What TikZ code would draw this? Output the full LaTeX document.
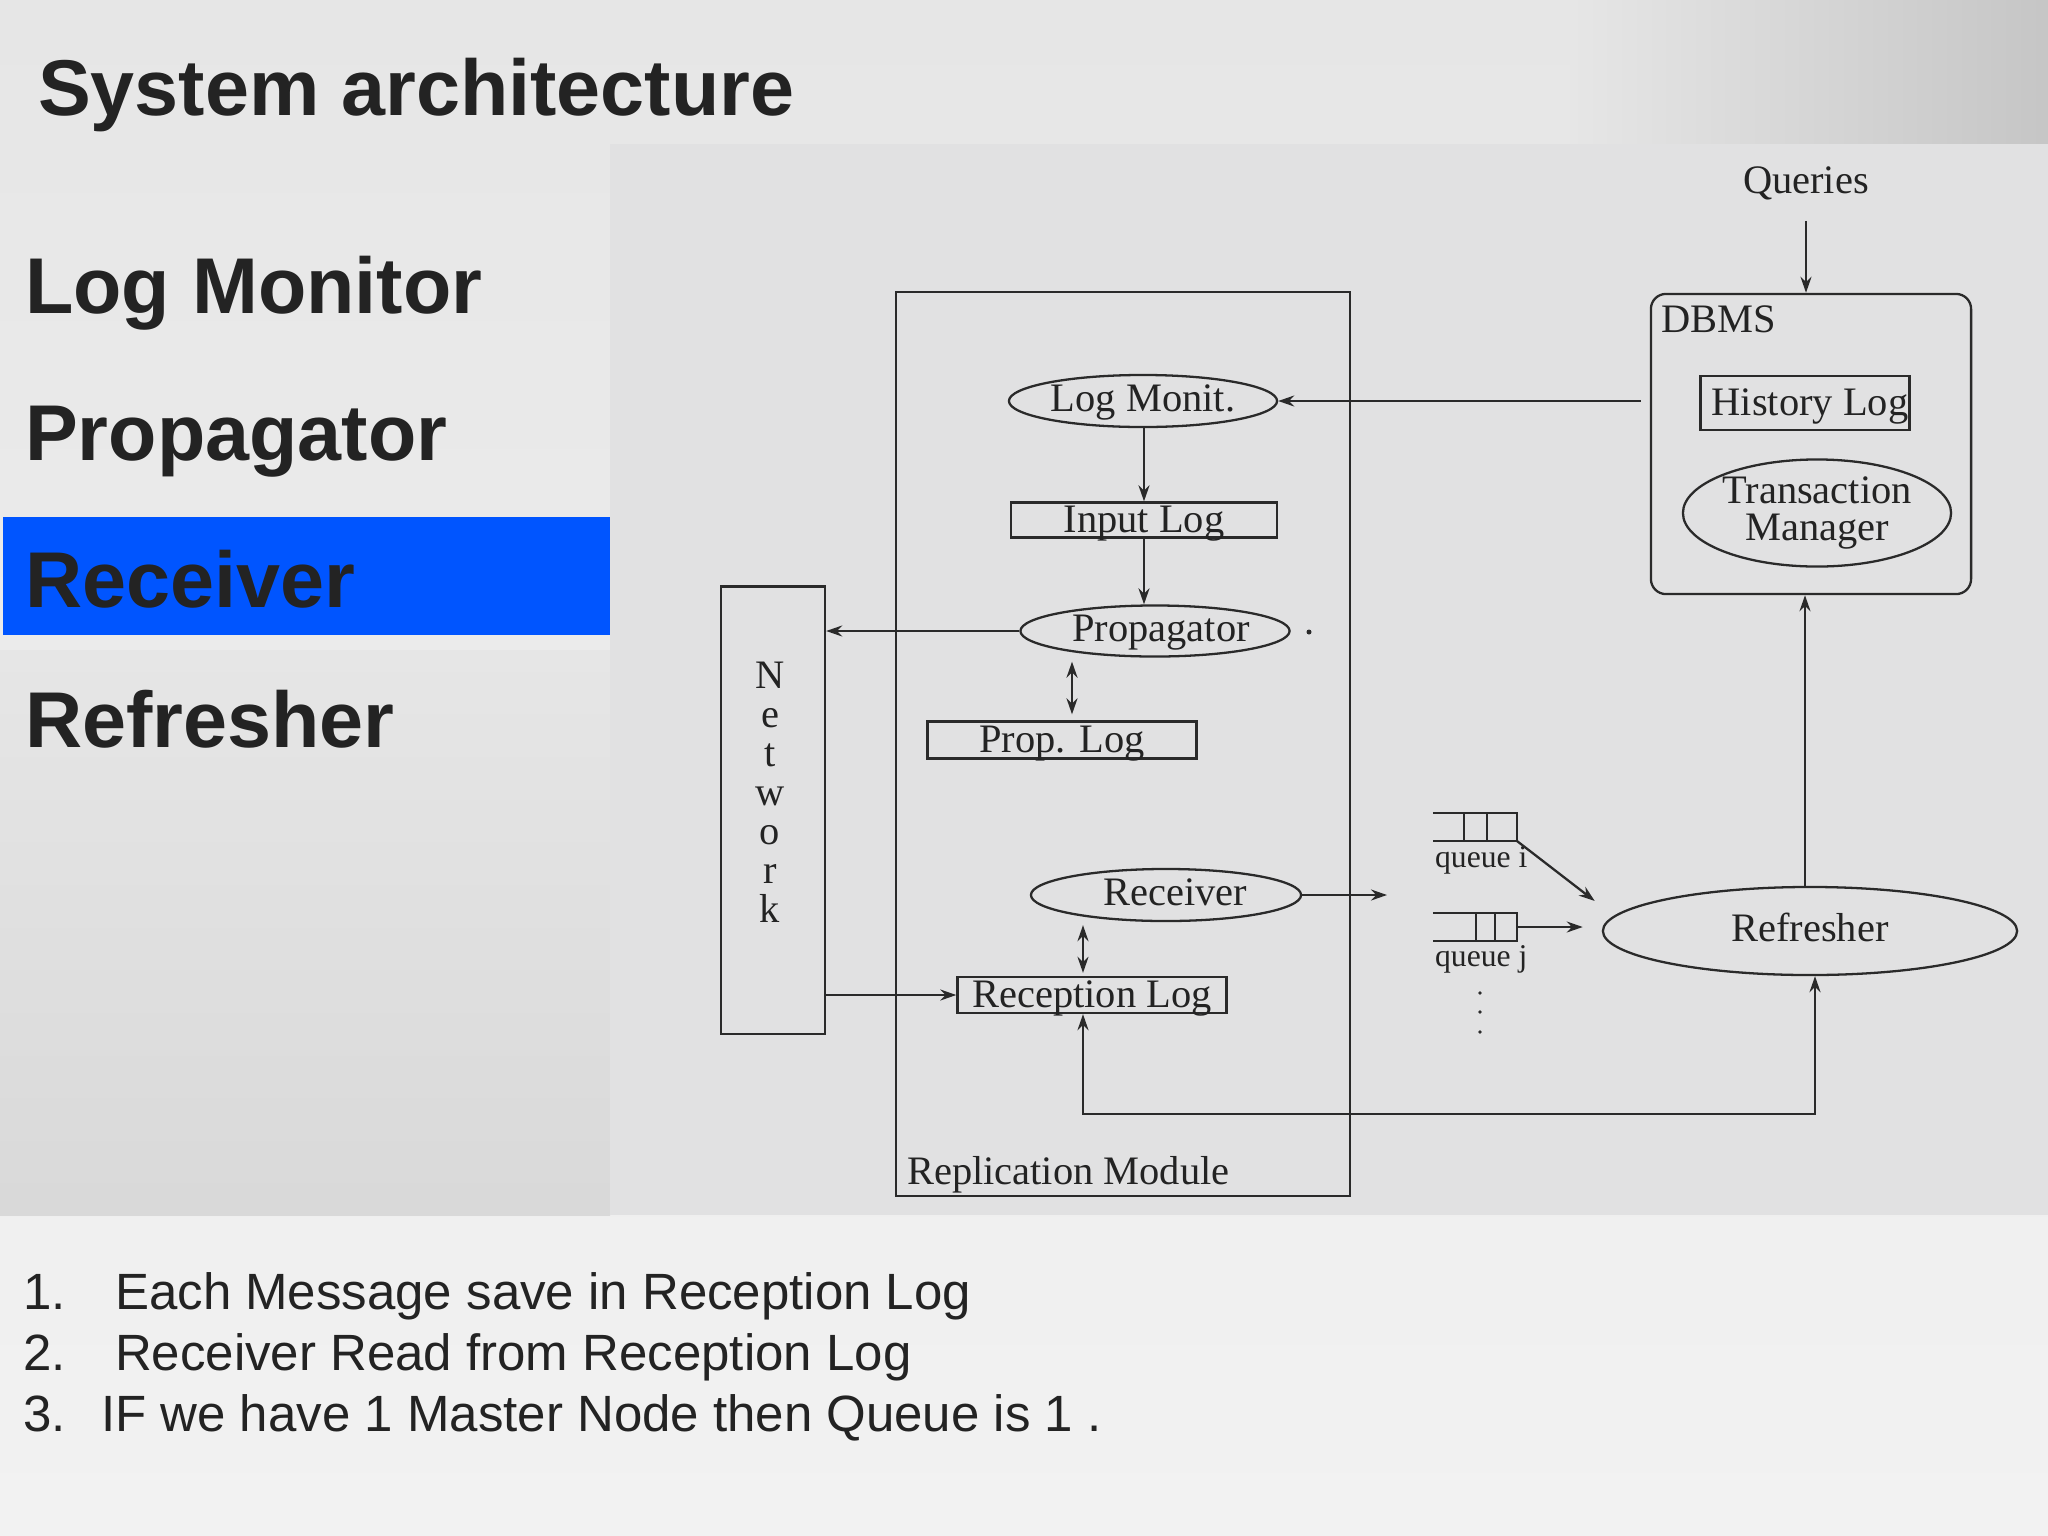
\documentclass[tikz,border=0pt]{standalone}
\usepackage{fontspec}
\setmainfont{Liberation Serif}
\newfontfamily\slidefont{Liberation Sans}
\usepackage{tikz}
\usetikzlibrary{positioning, arrows.meta, shapes.geometric}

\definecolor{slideblue}{HTML}{0055FF}
\definecolor{panelgray}{HTML}{E1E1E2}
\definecolor{slidetop}{HTML}{E6E6E6}
\definecolor{slidebot}{HTML}{F2F2F2}
\definecolor{ink}{HTML}{232323}
\definecolor{pen}{HTML}{2A2A2A}
\newcommand\diagfont{\fontsize{11.5}{13}\selectfont}

\begin{document}
\begin{tikzpicture}[x=0.01cm, y=-0.01cm,
    proc/.style={draw=pen, ellipse, inner sep=0pt, text height=0.7em, text depth=0.1em, font=\diagfont, text=ink},
    logbox/.style={draw=pen, rectangle, inner sep=0pt, text height=0.78em, text depth=0.05em, font=\diagfont, text=ink},
    frame/.style={draw=pen, rectangle, inner sep=0pt},
    lbl/.style={inner sep=0pt, font=\diagfont, text=ink},
    qlbl/.style={anchor=base west, inner sep=0pt, font=\fontsize{9}{10}\selectfont, text=ink},
    arr/.style={draw=pen, -{Stealth[length=1.6mm, width=1.1mm]}},
    dbl/.style={draw=pen, {Stealth[length=1.6mm, width=1.1mm]}-{Stealth[length=1.6mm, width=1.1mm]}},
    item/.style={anchor=base west, inner sep=0pt, text=ink, font=\slidefont\fontsize{22.5}{27}\selectfont\bfseries},
    note/.style={anchor=base west, inner sep=0pt, text=ink, font=\slidefont\fontsize{14.5}{17}\selectfont},
    line width=0.65pt,
]
\useasboundingbox (0,0) rectangle (2048,1536);

% slide background
\shade[top color=slidetop, bottom color=slidebot] (0,0) rectangle (2048,1536);
\shade[left color=slidetop, right color=gray!45] (1570,0) rectangle (2048,144);
\shade[top color=slidetop, bottom color=gray!30] (0,650) rectangle (610,1215);
\fill[panelgray] (610,144) rectangle (2048,1215);
\fill[slideblue] (3,517) rectangle (610,635);

% slide texts
\node[item] (title) at (37,115) {System architecture};
\node[item] (itlog) at (24,313) {Log Monitor};
\node[item] (itprop) at (24,460) {Propagator};
\node[item] (itrecv) at (24,607) {Receiver};
\node[item] (itrefr) at (24,747) {Refresher};

\node[note] (n1) at (22,1309) {1.};
\node[note] (t1) at (114,1309) {Each Message save in Reception Log};
\node[note] (n2) at (22,1370) {2.};
\node[note] (t2) at (114,1370) {Receiver Read from Reception Log};
\node[note] (n3) at (22,1431) {3.};
\node[note] (t3) at (100,1431) {IF we have 1 Master Node then Queue is 1 .};

% replication module
\node[frame, minimum width=4.54cm, minimum height=9.03cm] (repl) at (1123,744) {};
\node[lbl, anchor=west] (repllbl) at (906,1175) {Replication Module};

\node[proc, minimum width=2.68cm, minimum height=0.52cm] (logmon) at (1143,401) {Log Monit.};
\node[logbox, minimum width=2.66cm, minimum height=0.35cm] (inlog) at (1144,520) {Input Log};
\node[proc, minimum width=2.69cm, minimum height=0.51cm] (prop) at (1155,631) {\hspace{1.2mm}Propagator};
\node[logbox, minimum width=2.69cm, minimum height=0.37cm] (proplog) at (1062,740) {Prop. Log};
\node[proc, minimum width=2.70cm, minimum height=0.52cm] (recv) at (1166,895) {\hspace{1.8mm}Receiver};
\node[logbox, minimum width=2.69cm, minimum height=0.36cm] (reclog) at (1092,995) {Reception Log};
\fill[pen] (1309,632) circle (0.25mm);

% network
\node[frame, minimum width=1.04cm, minimum height=4.47cm] (net) at (773,810) {};
\node[lbl, align=center, font=\fontsize{11.5}{11.1}\selectfont] (netlbl) at (770,792) {N\\e\\t\\w\\o\\r\\k};

% dbms
\node[lbl] (queries) at (1806,183) {Queries};
\node[frame, rounded corners=0.15cm, minimum width=3.2cm, minimum height=3.0cm] (dbms) at (1811,444) {};
\node[lbl, anchor=west] (dbmslbl) at (1660,319) {DBMS};
\node[logbox, minimum width=2.09cm, minimum height=0.54cm] (hist) at (1805,403) {\hspace{1mm}History Log};
\node[proc, minimum width=2.68cm, minimum height=1.07cm, align=center, text height=, text depth=, font=\fontsize{11.5}{10.5}\selectfont] (tm) at (1817,513) {Transaction\\Manager};

% queues and refresher
\node[inner sep=0pt, minimum width=0.82cm, minimum height=0.26cm] (qi) at (1475,827) {};
\node[inner sep=0pt, minimum width=0.82cm, minimum height=0.26cm] (qj) at (1475,927) {};
\draw[pen] (qi.north west) -- (qi.north east) -- (qi.south east) -- (qi.south west);
\draw[pen] (qj.north west) -- (qj.north east) -- (qj.south east) -- (qj.south west);
\foreach \q/\a/\b in {qi/5.3mm/3.0mm, qj/4.1mm/2.2mm} {
  \draw[pen] ([xshift=-\a]\q.north east) -- ([xshift=-\a]\q.south east);
  \draw[pen] ([xshift=-\b]\q.north east) -- ([xshift=-\b]\q.south east);
}
\node[qlbl] (qilbl) at (1434,867) {queue i};
\node[qlbl] (qjlbl) at (1434,966) {queue j};
\foreach \y in {993,1012,1032}
  \fill[pen] (1480,\y) circle (0.18mm);
\node[proc, minimum width=4.14cm, minimum height=0.88cm] (refr) at (1810,931) {Refresher};
\coordinate (recvout) at (1387,895);
\coordinate (fb) at (1450,1114);

% connectors
\draw[arr, shorten <=2mm] (queries) -- (queries |- dbms.north);
\draw[arr] ([xshift=-0.9mm]dbms.west |- logmon.east) -- (logmon.east);
\draw[arr] (logmon.south -| inlog.north) -- (inlog.north);
\draw[arr] (inlog.south) -- (inlog.south |- prop.north);
\draw[dbl, shorten <=0.6mm, shorten >=0.4mm] ([xshift=1mm]proplog.north) -- ([xshift=1mm]proplog.north |- prop.south);
\draw[arr] (prop.west) -- (prop.west -| net.east);
\draw[arr] (net.east |- reclog.west) -- (reclog.west);
\draw[dbl, shorten <=0.3mm, shorten >=0.3mm] ([xshift=-0.9mm]reclog.north) -- ([xshift=-0.9mm]reclog.north |- recv.south);
\draw[arr] (recv.east) -- (recvout);
\draw[arr] (qi.south east) -- ([xshift=-0.7mm, yshift=3mm]refr.west);
\draw[arr] (qj.east) -- ([xshift=-1.9mm]refr.west |- qj.east);
\draw[arr] ([xshift=-0.5mm]refr.north) -- ([xshift=-0.5mm]refr.north |- dbms.south);
\draw[dbl] ([xshift=-0.9mm]reclog.south) |- (fb) -| ([xshift=0.5mm]refr.south);
\end{tikzpicture}
\end{document}
